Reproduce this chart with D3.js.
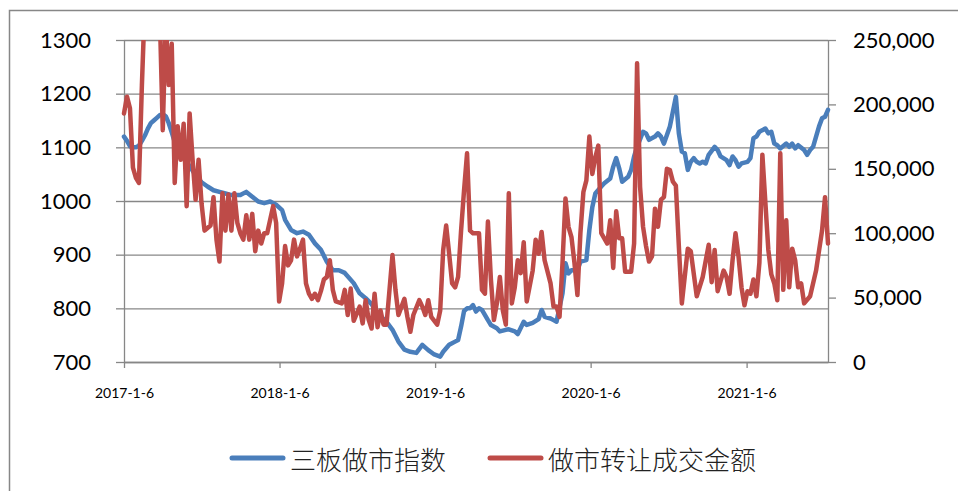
<!DOCTYPE html>
<html>
<head>
<meta charset="utf-8">
<script src="https://cdn.jsdelivr.net/npm/d3@7"></script>
<style>
  body { margin: 0; background: #fff; }
  svg { display: block; }
</style>
</head>
<body>
<svg id="chart" width="958" height="491"></svg>
<script>
// weeks counted from 2017-1-6
const startDate = new Date(2017, 0, 6);
const lastWeek = 236;

// 三板做市指数 (left axis)
const indexWeeks = [0,1,2,3,4,5,6,7,8,9,10,11,12,13,14,15,16,17,18,20,22,24,26,28,30,32,34,36,39,41,43,45,47,49,51,53,54,56,58,60,62,64,66,68,70,72,74,77,79,81,83,85,88,90,92,94,96,98,100,102,104,106,107,109,111,112,113,114,115,116,117,118,119,120,122,123,125,126,128,129,131,132,134,135,136,137,139,140,141,143,144,145,147,148,149,150,152,153,155,156,157,158,160,161,163,164,165,166,167,169,170,171,172,174,175,176,178,179,180,181,183,185,186,187,188,189,190,191,192,193,194,195,196,198,199,200,202,203,204,205,206,207,209,210,211,212,213,215,216,217,218,219,220,222,223,224,225,226,228,229,230,231,232,233,234,235,236];
const indexValues = [1120,1112,1102,1100,1100,1103,1112,1122,1135,1145,1150,1155,1160,1162,1158,1145,1128,1110,1098,1082,1065,1048,1035,1027,1020,1017,1014,1011,1011,1017,1008,999,996,999,993,983,965,946,940,943,937,921,909,887,871,871,866,847,828,819,808,790,775,760,738,723,719,717,732,722,714,710,719,732,738,741,766,795,800,800,806,794,800,797,778,769,763,757,760,761,757,752,775,769,771,773,780,797,784,781,778,775,828,884,865,871,871,887,890,946,989,1014,1027,1033,1042,1064,1080,1061,1036,1045,1058,1083,1101,1129,1126,1114,1120,1126,1120,1107,1139,1194,1126,1092,1089,1058,1073,1080,1073,1070,1073,1070,1086,1101,1095,1083,1076,1067,1083,1076,1064,1070,1073,1080,1117,1120,1129,1135,1126,1129,1107,1104,1098,1107,1101,1107,1098,1104,1095,1086,1095,1101,1120,1139,1154,1157,1170];

// 做市转让成交金额 (right axis)
const volumeWeeks = [0,1,2,3,4,5,6,7,8,9,10,11,12,13,14,15,16,17,18,19,20,21,22,23,24,25,26,27,28,29,30,31,32,33,34,35,36,37,38,39,40,41,42,43,44,45,46,47,48,50,51,52,53,54,55,56,57,58,59,60,61,62,63,64,65,66,67,68,69,70,71,73,74,75,76,77,79,80,81,82,83,84,85,86,87,88,90,91,92,94,95,96,97,99,100,101,102,103,105,106,107,108,109,110,111,112,113,114,115,116,117,119,120,121,122,123,124,125,126,127,128,129,130,131,132,133,134,135,137,138,139,140,141,143,144,145,146,147,148,149,150,151,152,153,154,155,156,157,158,159,160,161,162,163,164,165,166,167,168,170,171,172,173,174,175,176,177,178,179,180,181,182,183,184,185,186,187,189,190,192,194,196,197,198,199,201,202,203,204,205,206,207,208,209,210,211,212,213,214,216,217,218,219,220,221,222,223,224,225,226,227,228,230,232,234,235,236];
const volumeValues = [193000,206000,197000,151000,143000,139000,215000,280000,300000,290000,310000,285000,270000,180000,265000,215000,247000,139000,183000,157000,185000,121000,193000,157000,126000,157000,123000,102000,104000,106000,128000,95000,78000,131000,102000,130000,102000,131000,108000,100000,95000,114000,95000,115000,86000,102000,92000,100000,100000,121000,108000,47000,61000,90000,75000,79000,95000,82000,88000,95000,61000,53000,49000,53000,48000,55000,64000,66000,79000,56000,47000,45500,56000,36500,57000,32000,43000,30000,48000,33000,26000,53000,27000,40000,29000,29000,83000,56000,36500,49000,35000,23500,36500,48000,43000,36500,48000,35000,29000,40000,87000,106000,84000,61000,58000,66000,102000,133500,162000,102000,100000,100000,56000,53000,109000,64000,32600,45500,66000,40000,29000,131000,45500,58000,79000,69000,93000,47000,71000,95000,84000,101000,79000,61000,43000,43000,35000,77000,127000,105000,97000,77000,52000,100000,132000,141000,175000,146000,159000,168000,100000,96000,92000,110000,73000,117000,96000,96000,70000,70000,92000,232000,136000,105000,90000,78000,82000,119000,105000,126000,128000,150000,149000,140000,137000,90000,45500,88000,86000,51000,66000,91000,62000,87000,55000,71000,66000,53000,79000,100000,82000,58000,44000,55000,53000,64000,51000,77000,161000,87000,68000,61000,48000,162000,56000,110000,58000,88000,79000,58000,61000,45500,51000,71000,102000,128000,92000];

const leftTicks = [700, 800, 900, 1000, 1100, 1200, 1300];
const rightTicks = [0, 50000, 100000, 150000, 200000, 250000];
const yearTicks = [2017, 2018, 2019, 2020, 2021];

const blue = "#4a7ebb";
const red = "#be4b48";
const gridColor = "#878787";

const weekDate = (w) => d3.timeWeek.offset(startDate, w);

const plotLeft = 124, plotRight = 828, plotTop = 40, plotBottom = 362;

const svg = d3.select("#chart");

// outer frame
svg.append("rect")
  .attr("x", 9.5).attr("y", 10.5)
  .attr("width", 980).attr("height", 520)
  .attr("fill", "#fff")
  .attr("stroke", gridColor)
  .attr("stroke-width", 1.5);

const x = d3.scaleTime()
  .domain([startDate, weekDate(lastWeek)])
  .range([plotLeft, plotRight]);
const yL = d3.scaleLinear().domain([700, 1300]).range([plotBottom, plotTop]);
const yR = d3.scaleLinear().domain([0, 250000]).range([plotBottom, plotTop]);

// gridlines
svg.append("g")
  .attr("transform", `translate(${plotLeft},0)`)
  .call(d3.axisLeft(yL).tickValues(leftTicks).tickSize(-(plotRight - plotLeft)).tickFormat(""))
  .call((g) => g.select(".domain").remove())
  .call((g) => g.selectAll("line").attr("stroke", gridColor).attr("stroke-width", 1.3));

// left axis
svg.append("g")
  .attr("transform", `translate(${plotLeft},0)`)
  .call(d3.axisLeft(yL).tickValues(leftTicks).tickSize(8).tickPadding(25).tickSizeOuter(0)
    .tickFormat(d3.format("d")))
  .call((g) => g.select(".domain").attr("stroke", gridColor).attr("stroke-width", 1.3))
  .call((g) => g.selectAll("line").attr("stroke", gridColor).attr("stroke-width", 1.3))
  .call((g) => g.selectAll("text")
    .attr("fill", "#000")
    .style("font", "22px Lato, 'Open Sans', sans-serif"));

// right axis
svg.append("g")
  .attr("transform", `translate(${plotRight},0)`)
  .call(d3.axisRight(yR).tickValues(rightTicks).tickSize(8).tickPadding(17).tickSizeOuter(0)
    .tickFormat(d3.format(",")))
  .call((g) => g.select(".domain").attr("stroke", gridColor).attr("stroke-width", 1.3))
  .call((g) => g.selectAll("line").attr("stroke", gridColor).attr("stroke-width", 1.3))
  .call((g) => g.selectAll("text")
    .attr("fill", "#000")
    .style("font", "22px Lato, 'Open Sans', sans-serif"));

// bottom axis
svg.append("g")
  .attr("transform", `translate(0,${plotBottom})`)
  .call(d3.axisBottom(x)
    .tickValues(yearTicks.map((yr) => new Date(yr, 0, 6)))
    .tickFormat(d3.timeFormat("%Y-%-m-%-d"))
    .tickSize(6).tickPadding(20).tickSizeOuter(0))
  .call((g) => g.select(".domain").attr("stroke", gridColor).attr("stroke-width", 1.3))
  .call((g) => g.selectAll("line").attr("stroke", gridColor).attr("stroke-width", 1.3))
  .call((g) => g.selectAll("text")
    .attr("fill", "#000")
    .style("font", "14px Lato, 'Open Sans', sans-serif"));

// clip to plot area
svg.append("clipPath").attr("id", "plot-clip")
  .append("rect")
  .attr("x", plotLeft - 3).attr("y", plotTop)
  .attr("width", plotRight - plotLeft + 6).attr("height", plotBottom - plotTop + 3);

const plot = svg.append("g").attr("clip-path", "url(#plot-clip)");

const indexData = indexWeeks.map((w, i) => ({ date: weekDate(w), value: indexValues[i] }));
const volumeData = volumeWeeks.map((w, i) => ({ date: weekDate(w), value: volumeValues[i] }));

plot.append("path")
  .datum(indexData)
  .attr("fill", "none")
  .attr("stroke", blue)
  .attr("stroke-width", 4.5)
  .attr("stroke-linejoin", "round")
  .attr("stroke-linecap", "round")
  .attr("d", d3.line().x((d) => x(d.date)).y((d) => yL(d.value)));

plot.append("path")
  .datum(volumeData)
  .attr("fill", "none")
  .attr("stroke", red)
  .attr("stroke-width", 4.5)
  .attr("stroke-linejoin", "round")
  .attr("stroke-linecap", "round")
  .attr("d", d3.line().x((d) => x(d.date)).y((d) => yR(d.value)));

// legend
const legendItems = [
  { name: "三板做市指数", color: blue, x: 232 },
  { name: "做市转让成交金额", color: red, x: 490 },
];
const legend = svg.append("g");
legendItems.forEach((item) => {
  legend.append("line")
    .attr("x1", item.x).attr("x2", item.x + 51)
    .attr("y1", 458).attr("y2", 458)
    .attr("stroke", item.color)
    .attr("stroke-width", 5)
    .attr("stroke-linecap", "round");
  legend.append("text")
    .attr("x", item.x + 58).attr("y", 458)
    .attr("dominant-baseline", "central")
    .attr("fill", "#222")
    .style("font", "300 26px 'Noto Sans CJK SC', sans-serif")
    .text(item.name);
});
</script>
</body>
</html>
